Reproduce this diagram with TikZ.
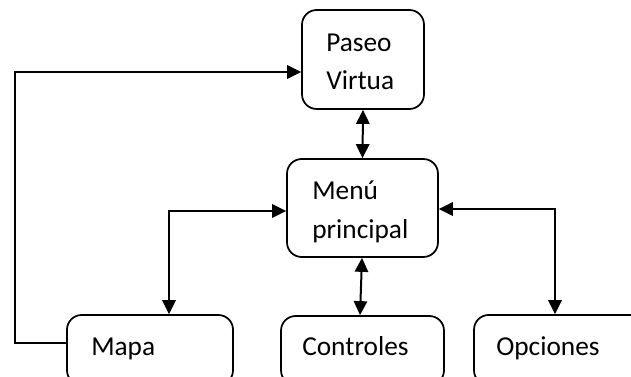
\documentclass[tikz,border=0pt]{standalone}
\usepackage{fontspec}
\setmainfont{Carlito}
\usetikzlibrary{arrows.meta,calc}
\begin{document}
\begin{tikzpicture}[x=0.75pt,y=-0.75pt,
  box/.style={draw,line width=1.3pt,rounded corners=11pt,minimum width=#1,inner sep=0pt},
  txt/.style={anchor=base west,inner sep=0pt,font=\fontsize{20.5}{24}\selectfont},
  conn/.style={line width=1.5pt,{Triangle[length=10.5pt,width=10pt]}-{Triangle[length=10.5pt,width=10pt]}},
  oneway/.style={line width=1.5pt,-{Triangle[length=10.5pt,width=10pt]}}]
\useasboundingbox (0,0) rectangle (631,377);
\clip (0,0) rectangle (631,377);
% boxes
\node[box=91.5pt,minimum height=74.25pt] (paseo) at (363,59.5) {};
\node[box=113.25pt,minimum height=73.5pt] (menu) at (362.5,208) {};
\node[box=124.5pt,minimum height=52.5pt] (mapa) at (150,350) {};
\node[box=122.25pt,minimum height=51.75pt] (controles) at (362.5,350.5) {};
\node[box=128.25pt,minimum height=52.5pt] (opciones) at (559.5,350) {};
% texts
\node[txt] (t1) at (326,52) {Paseo};
\node[txt] (t2) at (326,90) {Virtua};
\node[txt] (t3) at (312,200) {Menú};
\node[txt] (t4) at (312,239) {principal};
\node[txt] (t5) at (91,355) {Mapa};
\node[txt] (t6) at (302,355) {Controles};
\node[txt] (t7) at (496,355) {Opciones};
% connectors
\draw[conn] (paseo.south) -- (menu.north);
\draw[conn] ($(menu.south)+(-0.5,0)$) -- ($(controles.north)+(-2.5,0)$);
\coordinate (lbend) at (169,211);
\draw[conn] (lbend -| menu.west) -- (lbend) -- (lbend |- mapa.north);
\coordinate (rbend) at (555,209);
\draw[conn] (rbend -| menu.east) -- (rbend) -- (rbend |- opciones.north);
\coordinate (lb) at (15,343);
\coordinate (lt) at (15,72);
\draw[oneway] (lb -| mapa.west) -- (lb) -- (lt) -- (lt -| paseo.west);
\end{tikzpicture}
\end{document}
